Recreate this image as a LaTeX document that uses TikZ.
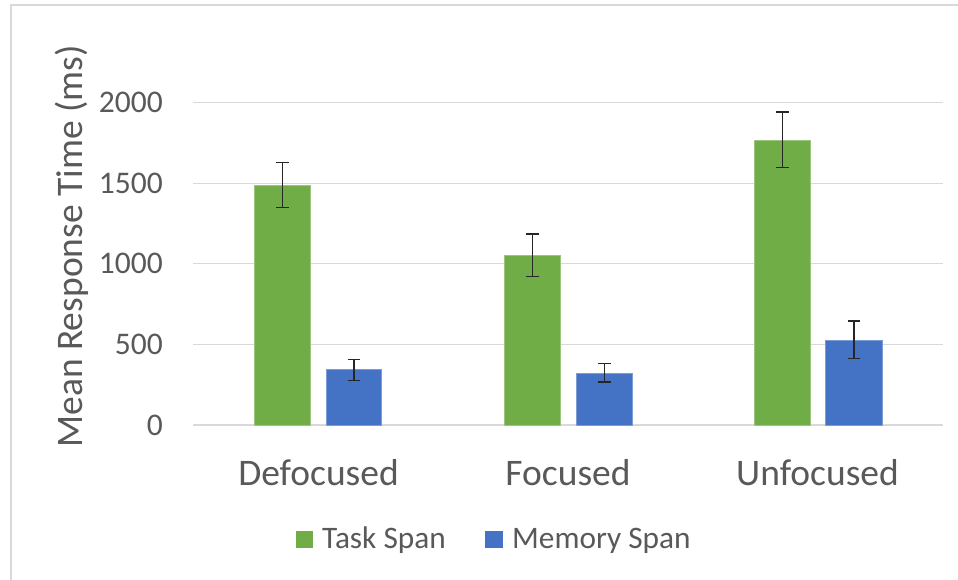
\documentclass[tikz,border=0pt]{standalone}
\usepackage{fontspec}
\setmainfont{Carlito}
\definecolor{gridc}{HTML}{D9D9D9}
\definecolor{txtc}{HTML}{595959}
\definecolor{gbar}{HTML}{70AD47}
\definecolor{bbar}{HTML}{4472C4}
\begin{document}
\begin{tikzpicture}[x=1pt,y=-1pt,
  gridline/.style={draw=gridc,line width=1.3pt},
  frameline/.style={draw=gridc,line width=2.2pt},
  greenbar/.style={fill=gbar,draw=gbar!70!white,line width=0.6pt},
  bluebar/.style={fill=bbar,draw=bbar!70!white,line width=0.6pt},
  errbar/.style={draw=black!85,line width=1.4pt},
  ticklabel/.style={anchor=east,text=txtc,font=\fontsize{31.5}{37}\selectfont,inner sep=0pt},
  catlabel/.style={anchor=base,text=txtc,font=\fontsize{37.5}{44}\selectfont,inner sep=0pt},
  leglabel/.style={anchor=base west,text=txtc,font=\fontsize{31.3}{37}\selectfont,inner sep=0pt},
  axtitle/.style={rotate=90,text=txtc,font=\fontsize{37.5}{44}\selectfont,inner sep=0pt}]
\useasboundingbox (0,0) rectangle (958,580);
\fill[white] (0,0) rectangle (958,580);
% frame
\draw[frameline] (11,582) -- (11,5) -- (960,5);
% gridlines
\foreach \yy/\lab [count=\i] in {425/0,344.3/500,263.8/1000,183.2/1500,102.8/2000}{
  \draw[gridline] (193,\yy) -- (943,\yy);
  \node[ticklabel] (tick\i) at (163,\yy) {\lab};
}
% bars: Defocused
\path[greenbar] (254.7,425) rectangle (310.3,185) node[pos=0.5] (bDg) {};
\path[bluebar] (326.7,425) rectangle (381.5,369.7) node[pos=0.5] (bDb) {};
% Focused
\path[greenbar] (504.3,425) rectangle (560.3,255.7) node[pos=0.5] (bFg) {};
\path[bluebar] (576.3,425) rectangle (632.3,373.7) node[pos=0.5] (bFb) {};
% Unfocused
\path[greenbar] (754,425) rectangle (810.3,140) node[pos=0.5] (bUg) {};
\path[bluebar] (825.7,425) rectangle (882,340) node[pos=0.5] (bUb) {};
% error bars
\foreach \xx/\ta/\tb in {282.5/162.3/207.3, 354.1/359.7/380.3, 532.3/234/276.7, 604.3/363.7/382, 782.2/112/167.7, 853.9/321/358.7}{
  \draw[errbar] (\xx,\ta) -- (\xx,\tb);
  \draw[errbar] (\xx-6.3,\ta) -- (\xx+6.3,\ta);
  \draw[errbar] (\xx-6.3,\tb) -- (\xx+6.3,\tb);
}
% category labels
\node[catlabel] (cD) at (318.5,485) {Defocused};
\node[catlabel] (cF) at (568,485) {Focused};
\node[catlabel] (cU) at (817.5,485) {Unfocused};
% axis title
\node[axtitle] (ytitle) at (72,246.5) {Mean Response Time (ms)};
% legend
\fill[gbar] (295.7,530.7) rectangle (313.3,547.7);
\node[leglabel] (lg1) at (322,548) {Task Span};
\fill[bbar] (485,530.7) rectangle (502.7,547.7);
\node[leglabel] (lg2) at (512,548) {Memory Span};
\end{tikzpicture}
\end{document}
